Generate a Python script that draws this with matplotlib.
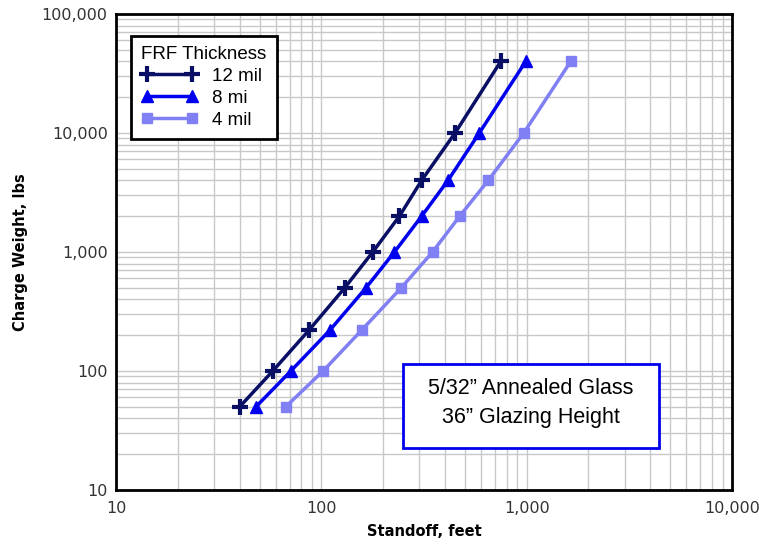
import matplotlib
matplotlib.use("Agg")
import matplotlib.pyplot as plt
from matplotlib.ticker import FixedLocator, FuncFormatter, LogLocator, NullFormatter
from matplotlib.patches import Rectangle

charge_weight = [50, 100, 220, 500, 1000, 2000, 4000, 10000, 40000]
standoff_12mil = [40, 58, 87, 130, 178, 240, 308, 448, 748]
standoff_8mi = [48, 71, 110, 165, 227, 308, 414, 588, 990]
standoff_4mil = [67, 102, 157, 245, 348, 472, 650, 968, 1640]
series_labels = ["12 mil", "8 mi", "4 mil"]
legend_title = "FRF Thickness"
x_ticks = [10, 100, 1000, 10000]
y_ticks = [10, 100, 1000, 10000, 100000]
annotation = "5/32\u201d Annealed Glass\n36\u201d Glazing Height"

fig = plt.figure(figsize=(7.59, 5.48), dpi=100)
ax = fig.add_axes([116/759, 1-490/548, (732-116)/759, (490-14)/548])
ax.set_xscale("log")
ax.set_yscale("log")
ax.set_xlim(10, 10000)
ax.set_ylim(10, 100000)

ax.xaxis.set_major_locator(FixedLocator(x_ticks))
ax.yaxis.set_major_locator(FixedLocator(y_ticks))
ax.xaxis.set_minor_locator(LogLocator(base=10, subs=range(2, 10)))
ax.yaxis.set_minor_locator(LogLocator(base=10, subs=range(2, 10)))
fmt = FuncFormatter(lambda v, p: f"{int(round(v)):,}")
ax.xaxis.set_major_formatter(fmt)
ax.yaxis.set_major_formatter(fmt)
ax.xaxis.set_minor_formatter(NullFormatter())
ax.yaxis.set_minor_formatter(NullFormatter())
ax.grid(True, which="both", color="#c8c8c8", linewidth=1.0)
ax.set_axisbelow(True)
ax.tick_params(which="both", length=0, labelsize=11.5, labelcolor="#333333")
ax.tick_params(axis="x", pad=8)
ax.tick_params(axis="y", pad=6)
for s in ax.spines.values():
    s.set_linewidth(2)
    s.set_color("black")

ax.plot(standoff_12mil, charge_weight, color="#0a0f66", lw=2.5, marker="+",
        ms=11, mew=3, label=series_labels[0])
ax.plot(standoff_8mi, charge_weight, color="#0000ee", lw=2.5, marker="^",
        ms=8, label=series_labels[1])
ax.plot(standoff_4mil, charge_weight, color="#8080f4", lw=2.5, marker="s",
        ms=7, label=series_labels[2])

ax.set_xlabel("Standoff, feet", fontsize=10.5, fontweight="bold", labelpad=6)
ax.set_ylabel("Charge Weight, lbs", fontsize=10.5, fontweight="bold", labelpad=10)

leg = ax.legend(title=legend_title, loc="upper left", bbox_to_anchor=(0.024, 0.954),
                borderaxespad=0, fancybox=False, framealpha=1, edgecolor="black",
                prop={"family": "Liberation Sans", "size": 13.5},
                title_fontproperties={"family": "Liberation Sans", "size": 13.5},
                numpoints=2, handlelength=3, alignment="left", labelspacing=0.25,
                borderpad=0.55, handletextpad=0.8)
leg.get_frame().set_linewidth(2)

rect = Rectangle(((403-116)/616, (490-448)/476), (659-403)/616, (448-364)/476,
                 transform=ax.transAxes, facecolor="white", edgecolor="#0000ee", lw=2, zorder=3)
ax.add_patch(rect)
ax.text((531-116)/616, (490-403)/476, annotation, transform=ax.transAxes,
        ha="center", va="center", multialignment="center", fontsize=15.5,
        family="Liberation Sans", linespacing=1.45, zorder=4)

fig.savefig("out.png", dpi=100)
